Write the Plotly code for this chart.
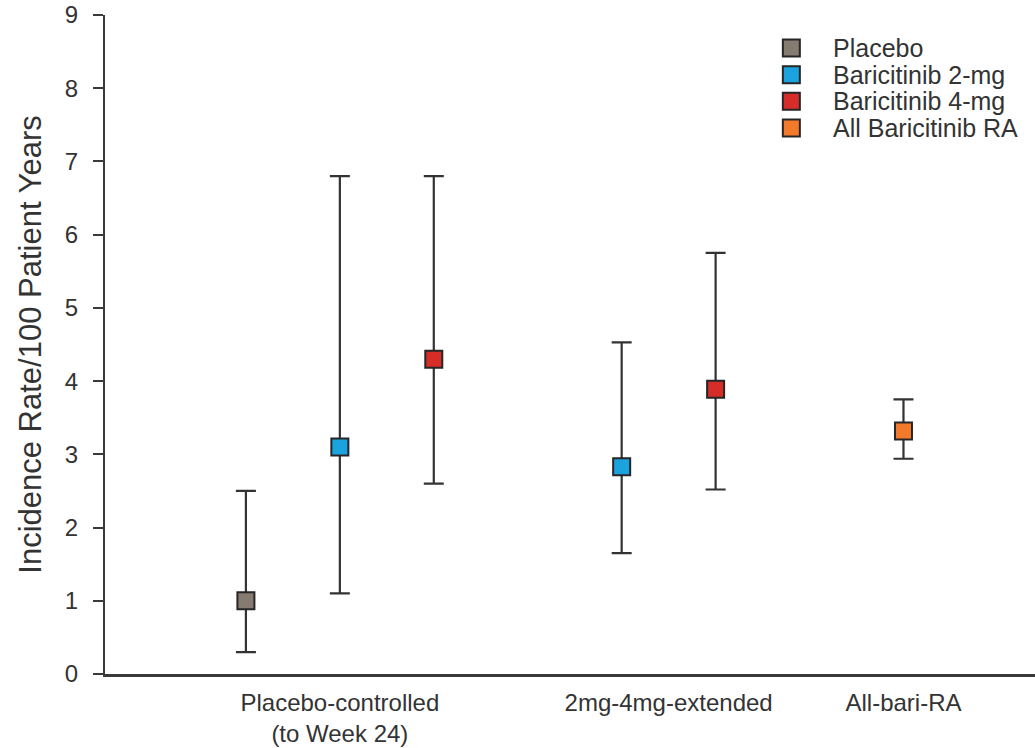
import plotly.graph_objects as go

# Study groups shown on the x axis
groups = ["Placebo-controlled<br>(to Week 24)", "2mg-4mg-extended", "All-bari-RA"]
group_pos = [2.5, 6.0, 8.5]

# Series: x positions, incidence rates and 95% CI bounds
placebo_x = [1.5]
placebo_ir = [1.0]
placebo_lo = [0.3]
placebo_hi = [2.5]

bari2_x = [2.5, 5.5]
bari2_ir = [3.1, 2.83]
bari2_lo = [1.1, 1.65]
bari2_hi = [6.8, 4.53]

bari4_x = [3.5, 6.5]
bari4_ir = [4.3, 3.89]
bari4_lo = [2.6, 2.52]
bari4_hi = [6.8, 5.75]

allbari_x = [8.5]
allbari_ir = [3.32]
allbari_lo = [2.94]
allbari_hi = [3.75]

series_names = ["Placebo", "Baricitinib 2-mg", "Baricitinib 4-mg", "All Baricitinib RA"]
series_colors = ["#857b70", "#1ba3e0", "#d62d28", "#f47a2b"]

series = list(zip(
    series_names,
    [placebo_x, bari2_x, bari4_x, allbari_x],
    [placebo_ir, bari2_ir, bari4_ir, allbari_ir],
    [placebo_lo, bari2_lo, bari4_lo, allbari_lo],
    [placebo_hi, bari2_hi, bari4_hi, allbari_hi],
    series_colors,
))

FONT = "Liberation Sans, Arial, sans-serif"
TEXT_COLOR = "#333333"
AXIS_COLOR = "#3a3a3a"
EDGE_COLOR = "#262626"
MARKER_SIZE = 17

fig = go.Figure()
for name, xs, ys, lo, hi, col in series:
    fig.add_trace(go.Scatter(
        x=xs, y=ys, name=name, mode="markers", showlegend=False,
        marker=dict(symbol="square", size=MARKER_SIZE, color=col,
                    line=dict(color=EDGE_COLOR, width=2)),
        error_y=dict(type="data", symmetric=False,
                     array=[h - v for h, v in zip(hi, ys)],
                     arrayminus=[v - l for v, l in zip(ys, lo)],
                     color="#333333", thickness=2.2, width=10),
    ))

# Compact legend: swatches on an invisible overlay axis (0..1 in both
# directions), labels as annotations beside them
LEG_X = 0.738          # swatch centre, fraction of plot width
LEG_TEXT_X = 0.781     # label left edge
LEG_TOP = 0.950        # first row centre, fraction of plot height
LEG_STEP = 0.0405      # row spacing
leg_rows = [LEG_TOP - i * LEG_STEP for i in range(len(series_names))]

fig.add_trace(go.Scatter(
    x=[LEG_X] * len(series_names), y=leg_rows, xaxis="x2", yaxis="y2",
    mode="markers", showlegend=False, hoverinfo="skip",
    marker=dict(symbol="square", size=MARKER_SIZE, color=series_colors,
                line=dict(color=EDGE_COLOR, width=2)),
))
for name, yr in zip(series_names, leg_rows):
    fig.add_annotation(x=LEG_TEXT_X, y=yr, xref="paper", yref="paper",
                       text=name, showarrow=False, xanchor="left",
                       yanchor="middle",
                       font=dict(family=FONT, size=25, color=TEXT_COLOR))

fig.update_layout(
    width=1035, height=748,
    margin=dict(l=105, r=0, t=15, b=74),
    plot_bgcolor="white", paper_bgcolor="white",
    font=dict(family=FONT, color=TEXT_COLOR),
    showlegend=False,
    xaxis=dict(range=[0, 9.9], tickmode="array", tickvals=group_pos,
               ticktext=groups, ticks="", showgrid=False, zeroline=False,
               showline=True, linecolor=AXIS_COLOR, linewidth=3,
               tickfont=dict(size=24, color=TEXT_COLOR), ticklabelstandoff=5),
    yaxis=dict(range=[0, 9], dtick=1, ticks="outside", ticklen=10,
               tickwidth=1.5, tickcolor=AXIS_COLOR, showgrid=False,
               zeroline=False, showline=True, linecolor=AXIS_COLOR,
               linewidth=2, tickfont=dict(size=24, color=TEXT_COLOR),
               ticklabelstandoff=10,
               title=dict(text="Incidence Rate/100 Patient Years",
                          font=dict(size=31, color=TEXT_COLOR), standoff=14)),
    xaxis2=dict(overlaying="x", range=[0, 1], visible=False),
    yaxis2=dict(overlaying="y", range=[0, 1], visible=False),
)

fig.write_html("out.html")
